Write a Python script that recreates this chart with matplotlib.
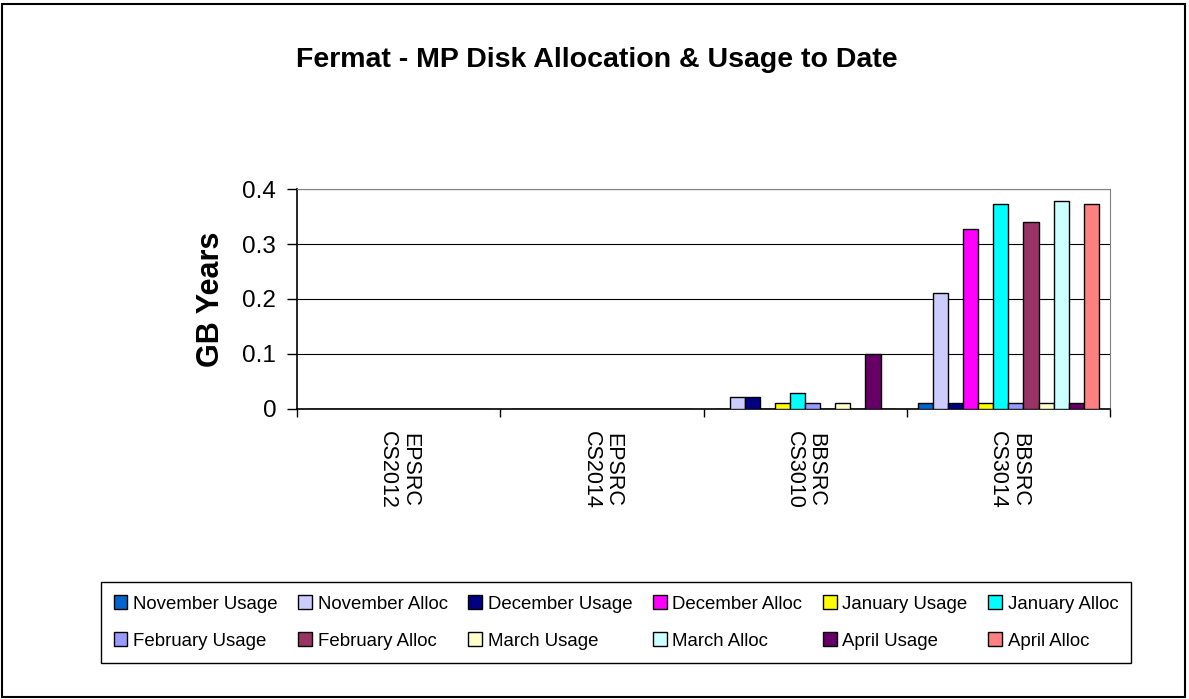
# Fermat - MP disk allocation & usage, grouped bar chart (Excel style)

import numpy as np
import matplotlib
matplotlib.use('Agg')
import matplotlib.pyplot as plt
from matplotlib.patches import Rectangle

# ----------------------------------------------------------------------------------------------------------------------
#  DATA
# ----------------------------------------------------------------------------------------------------------------------
categories   = ['EPSRC\nCS2012', 'EPSRC\nCS2014', 'BBSRC\nCS3010', 'BBSRC\nCS3014']
series_names = ['November Usage', 'November Alloc', 'December Usage', 'December Alloc',
                'January Usage', 'January Alloc', 'February Usage', 'February Alloc',
                'March Usage', 'March Alloc', 'April Usage', 'April Alloc']

# GB years per category, one list per series
nov_usage = [0, 0, 0.0,    0.0115]
nov_alloc = [0, 0, 0.022,  0.211]
dec_usage = [0, 0, 0.022,  0.0115]
dec_alloc = [0, 0, 0.0,    0.328]
jan_usage = [0, 0, 0.0115, 0.0115]
jan_alloc = [0, 0, 0.029,  0.372]
feb_usage = [0, 0, 0.0115, 0.0115]
feb_alloc = [0, 0, 0.0,    0.340]
mar_usage = [0, 0, 0.0115, 0.0115]
mar_alloc = [0, 0, 0.0,    0.378]
apr_usage = [0, 0, 0.100,  0.0115]
apr_alloc = [0, 0, 0.0,    0.372]

series_values = [nov_usage, nov_alloc, dec_usage, dec_alloc, jan_usage, jan_alloc,
                 feb_usage, feb_alloc, mar_usage, mar_alloc, apr_usage, apr_alloc]

colors = ['#0066CC', '#CCCCFF', '#000080', '#FF00FF', '#FFFF00', '#00FFFF',
          '#9999FF', '#993366', '#FFFFCC', '#CCFFFF', '#660066', '#FF8080']

# ----------------------------------------------------------------------------------------------------------------------
#  PLOT
# ----------------------------------------------------------------------------------------------------------------------
plt.rcParams['font.family'] = ['Liberation Sans', 'DejaVu Sans']

fig = plt.figure(figsize=(11.89, 6.99), dpi=100)
ax  = fig.add_axes([0.2498, 0.4149, 0.6838, 0.3147])

n_series = len(series_names)
x        = np.arange(len(categories))
width    = 0.89 / n_series

handles = []
for j in range(n_series):
    offset = (j - (n_series - 1) / 2.) * width
    h = ax.bar(x + offset, series_values[j], width, color=colors[j], edgecolor='black',
               linewidth=1.0, label=series_names[j], zorder=3)
    handles.append(h)

ax.set_xlim(-0.5, len(categories) - 0.5)
ax.set_ylim(0, 0.4)
ax.set_yticks([0, 0.1, 0.2, 0.3, 0.4])
ax.set_yticklabels(['0', '0.1', '0.2', '0.3', '0.4'])
ax.yaxis.grid(True, color='black', linewidth=0.8, zorder=0)

ax.set_xticks(x)
ax.set_xticklabels(categories, rotation=270, fontsize=15.5, va='top', ha='center', linespacing=1.05)
ax.set_xticks(np.arange(len(categories) + 1) - 0.5, minor=True)
ax.tick_params(axis='x', which='major', length=0, pad=16)
ax.tick_params(axis='x', which='minor', length=6, width=1, direction='out')
ax.tick_params(axis='y', labelsize=17.5, length=7, width=1, direction='out', pad=8)

for side in ['top', 'right']:
    ax.spines[side].set_color('#808080')
for side in ['left', 'bottom']:
    ax.spines[side].set_color('black')
    ax.spines[side].set_linewidth(1.2)

ax.set_ylabel('GB Years', fontsize=22, fontweight='bold', labelpad=12)

fig.text(0.502, 0.914, 'Fermat - MP Disk Allocation & Usage to Date',
         ha='center', va='center', fontsize=20.5, fontweight='bold')

# legend, excel style: 6 columns by 2 rows filled row by row, square keys
ncol  = 6
order = [r * ncol + c for c in range(ncol) for r in range(2)]
leg = fig.legend([handles[k] for k in order], [series_names[k] for k in order],
                 loc='center', bbox_to_anchor=(0.518, 0.1094), ncol=ncol, fontsize=13.4,
                 frameon=True, fancybox=False, edgecolor='black', framealpha=1,
                 handlelength=0.75, handleheight=0.75, handletextpad=0.3,
                 columnspacing=1.1, labelspacing=1.05, borderpad=0.7)
leg.get_frame().set_linewidth(1.0)

# outer chart border
fig.patches.append(Rectangle((0.002, 0.003), 0.995, 0.991, transform=fig.transFigure,
                             fill=False, edgecolor='black', linewidth=1.5))

fig.savefig('out.png', dpi=100)
